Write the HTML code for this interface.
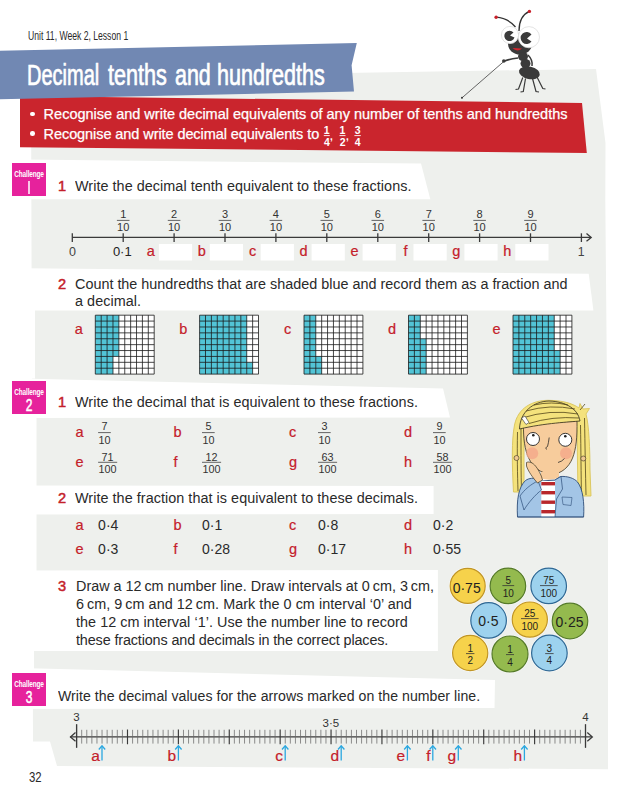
<!DOCTYPE html>
<html><head><meta charset="utf-8">
<style>
html,body{margin:0;padding:0;}
body{width:636px;height:810px;position:relative;overflow:hidden;background:#fff;font-family:"Liberation Sans",sans-serif;color:#2a2a2a;}
.a{position:absolute;white-space:pre;line-height:1;}
.q{font-size:15.2px;letter-spacing:0.05px;transform:scaleX(0.947);transform-origin:0 0;}
.rn{color:#c4202a;font-size:14.6px;-webkit-text-stroke:0.5px #c4202a;}
.badge{position:absolute;width:34px;height:33px;background:#e6229c;color:#fff;text-align:center;}
.badge .t{position:absolute;left:-3px;top:5.5px;width:40px;font-size:8.5px;font-weight:bold;letter-spacing:-0.2px;transform:scaleX(0.76);}
.badge .n{position:absolute;left:0;top:15.5px;width:34px;font-size:16px;transform:scaleX(0.75);-webkit-text-stroke:0.5px #fff;}
svg{position:absolute;left:0;top:0;}
.ttl{top:61px;font-size:29px;color:#fff;-webkit-text-stroke:0.7px #fff;transform-origin:0 0;}
</style></head>
<body>

<svg width="636" height="810" viewBox="0 0 636 810">
<polygon points="31,78 596,69 605.5,143 605.3,200 608,500 608,769.2 57,766 50,741.5 33,741.5" fill="#eef0ed"/>
<polygon points="0,159.3 421,163.6 430.3,199.2 0,199.2" fill="#fff"/>
<polygon points="0,268 588.7,273.7 593.4,310.5 0,310.5" fill="#fff"/>
<polygon points="0,378 443,388.5 450,417.5 0,418" fill="#fff"/>
<polygon points="0,485.5 433.6,486 433.6,514 0,514.5" fill="#fff"/>
<polygon points="0,570.5 437.9,570 437.9,651 0,651" fill="#fff"/>
<polygon points="0,667.5 495,680 494.5,708 0,709" fill="#fff"/>
<rect x="30" y="309" width="5" height="69.5" fill="#fff"/>
<rect x="30" y="417" width="6.5" height="69" fill="#fff"/>
<rect x="30" y="513" width="6.5" height="60" fill="#fff"/>
<rect x="30" y="650" width="4" height="20" fill="#fff"/>
<polygon points="20,96 582,102.9 586.8,153 20,147.2" fill="#ca252d"/>
<polygon points="0,50.8 356.8,43 351.6,65.2 354,91.6 0,99.2" fill="#7188b3"/>
<g stroke="#3a3a3a" stroke-width="1.3" fill="none">
<line x1="72.3" y1="237.4" x2="591" y2="237.4"/>
<polyline points="586.5,233.6 591.2,237.4 586.5,241.2"/>
<line x1="72.3" y1="233.3" x2="72.3" y2="242"/>
<line x1="123.2" y1="233.3" x2="123.2" y2="242"/>
<line x1="174.1" y1="233.3" x2="174.1" y2="242"/>
<line x1="225.0" y1="233.3" x2="225.0" y2="242"/>
<line x1="275.9" y1="233.3" x2="275.9" y2="242"/>
<line x1="326.8" y1="233.3" x2="326.8" y2="242"/>
<line x1="377.8" y1="233.3" x2="377.8" y2="242"/>
<line x1="428.7" y1="233.3" x2="428.7" y2="242"/>
<line x1="479.6" y1="233.3" x2="479.6" y2="242"/>
<line x1="530.5" y1="233.3" x2="530.5" y2="242"/>
<line x1="581.4" y1="233.3" x2="581.4" y2="242"/>
</g>
<rect x="158.9" y="244" width="33.2" height="16.5" fill="#fff"/>
<rect x="209.8" y="244" width="33.2" height="16.5" fill="#fff"/>
<rect x="260.7" y="244" width="33.2" height="16.5" fill="#fff"/>
<rect x="311.6" y="244" width="33.2" height="16.5" fill="#fff"/>
<rect x="362.6" y="244" width="33.2" height="16.5" fill="#fff"/>
<rect x="413.5" y="244" width="33.2" height="16.5" fill="#fff"/>
<rect x="464.4" y="244" width="33.2" height="16.5" fill="#fff"/>
<rect x="515.3" y="244" width="33.2" height="16.5" fill="#fff"/>
<g font-family="Liberation Sans" font-size="11" fill="#333" text-anchor="middle">
<text x="123.2" y="218.1">1</text>
<text x="123.2" y="230.6">10</text>
<line x1="116.9" y1="220.4" x2="129.5" y2="220.4" stroke="#555" stroke-width="0.9"/>
<text x="174.1" y="218.1">2</text>
<text x="174.1" y="230.6">10</text>
<line x1="167.8" y1="220.4" x2="180.4" y2="220.4" stroke="#555" stroke-width="0.9"/>
<text x="225.0" y="218.1">3</text>
<text x="225.0" y="230.6">10</text>
<line x1="218.7" y1="220.4" x2="231.3" y2="220.4" stroke="#555" stroke-width="0.9"/>
<text x="275.9" y="218.1">4</text>
<text x="275.9" y="230.6">10</text>
<line x1="269.6" y1="220.4" x2="282.2" y2="220.4" stroke="#555" stroke-width="0.9"/>
<text x="326.8" y="218.1">5</text>
<text x="326.8" y="230.6">10</text>
<line x1="320.5" y1="220.4" x2="333.1" y2="220.4" stroke="#555" stroke-width="0.9"/>
<text x="377.8" y="218.1">6</text>
<text x="377.8" y="230.6">10</text>
<line x1="371.5" y1="220.4" x2="384.1" y2="220.4" stroke="#555" stroke-width="0.9"/>
<text x="428.7" y="218.1">7</text>
<text x="428.7" y="230.6">10</text>
<line x1="422.4" y1="220.4" x2="435.0" y2="220.4" stroke="#555" stroke-width="0.9"/>
<text x="479.6" y="218.1">8</text>
<text x="479.6" y="230.6">10</text>
<line x1="473.3" y1="220.4" x2="485.9" y2="220.4" stroke="#555" stroke-width="0.9"/>
<text x="530.5" y="218.1">9</text>
<text x="530.5" y="230.6">10</text>
<line x1="524.2" y1="220.4" x2="536.8" y2="220.4" stroke="#555" stroke-width="0.9"/>
</g>
<text x="72.4" y="256.3" font-family="Liberation Sans" font-size="12.5" fill="#444" text-anchor="middle">0</text>
<text x="122.3" y="256.3" font-family="Liberation Sans" font-size="13" fill="#222" text-anchor="middle">0·1</text>
<text x="581.2" y="255.8" font-family="Liberation Sans" font-size="12.3" fill="#444" text-anchor="middle">1</text>
<g font-family="Liberation Sans" font-size="14.5" fill="#c4202a" stroke="#c4202a" stroke-width="0.2" text-anchor="middle">
<text x="150.9" y="256.3">a</text>
<text x="201.8" y="256.3">b</text>
<text x="252.7" y="256.3">c</text>
<text x="303.6" y="256.3">d</text>
<text x="354.6" y="256.3">e</text>
<text x="405.5" y="256.3">f</text>
<text x="456.4" y="256.3">g</text>
<text x="507.3" y="256.3">h</text>
</g>
<rect x="95.3" y="315.2" width="58.90" height="58.90" fill="#fff"/>
<rect x="95.3" y="315.2" width="17.67" height="58.90" fill="#52c4d6"/>
<rect x="112.97" y="315.2" width="5.89" height="41.23" fill="#52c4d6"/>
<path d="M95.30 315.2V374.10M95.3 315.20H154.20M101.19 315.2V374.10M95.3 321.09H154.20M107.08 315.2V374.10M95.3 326.98H154.20M112.97 315.2V374.10M95.3 332.87H154.20M118.86 315.2V374.10M95.3 338.76H154.20M124.75 315.2V374.10M95.3 344.65H154.20M130.64 315.2V374.10M95.3 350.54H154.20M136.53 315.2V374.10M95.3 356.43H154.20M142.42 315.2V374.10M95.3 362.32H154.20M148.31 315.2V374.10M95.3 368.21H154.20M154.20 315.2V374.10M95.3 374.10H154.20" stroke="#1a1a1a" stroke-width="0.8" fill="none"/>
<rect x="199.6" y="315.2" width="58.90" height="58.90" fill="#fff"/>
<rect x="199.6" y="315.2" width="47.12" height="58.90" fill="#52c4d6"/>
<rect x="246.72" y="362.32" width="5.89" height="11.78" fill="#52c4d6"/>
<path d="M199.60 315.2V374.10M199.6 315.20H258.50M205.49 315.2V374.10M199.6 321.09H258.50M211.38 315.2V374.10M199.6 326.98H258.50M217.27 315.2V374.10M199.6 332.87H258.50M223.16 315.2V374.10M199.6 338.76H258.50M229.05 315.2V374.10M199.6 344.65H258.50M234.94 315.2V374.10M199.6 350.54H258.50M240.83 315.2V374.10M199.6 356.43H258.50M246.72 315.2V374.10M199.6 362.32H258.50M252.61 315.2V374.10M199.6 368.21H258.50M258.50 315.2V374.10M199.6 374.10H258.50" stroke="#1a1a1a" stroke-width="0.8" fill="none"/>
<rect x="304.0" y="315.2" width="58.90" height="58.90" fill="#fff"/>
<rect x="304.0" y="315.2" width="11.78" height="58.90" fill="#52c4d6"/>
<rect x="315.78" y="356.43" width="5.89" height="17.67" fill="#52c4d6"/>
<path d="M304.00 315.2V374.10M304.0 315.20H362.90M309.89 315.2V374.10M304.0 321.09H362.90M315.78 315.2V374.10M304.0 326.98H362.90M321.67 315.2V374.10M304.0 332.87H362.90M327.56 315.2V374.10M304.0 338.76H362.90M333.45 315.2V374.10M304.0 344.65H362.90M339.34 315.2V374.10M304.0 350.54H362.90M345.23 315.2V374.10M304.0 356.43H362.90M351.12 315.2V374.10M304.0 362.32H362.90M357.01 315.2V374.10M304.0 368.21H362.90M362.90 315.2V374.10M304.0 374.10H362.90" stroke="#1a1a1a" stroke-width="0.8" fill="none"/>
<rect x="408.5" y="315.2" width="58.90" height="58.90" fill="#fff"/>
<rect x="408.5" y="315.2" width="11.78" height="58.90" fill="#52c4d6"/>
<rect x="420.28" y="338.76" width="5.89" height="35.34" fill="#52c4d6"/>
<path d="M408.50 315.2V374.10M408.5 315.20H467.40M414.39 315.2V374.10M408.5 321.09H467.40M420.28 315.2V374.10M408.5 326.98H467.40M426.17 315.2V374.10M408.5 332.87H467.40M432.06 315.2V374.10M408.5 338.76H467.40M437.95 315.2V374.10M408.5 344.65H467.40M443.84 315.2V374.10M408.5 350.54H467.40M449.73 315.2V374.10M408.5 356.43H467.40M455.62 315.2V374.10M408.5 362.32H467.40M461.51 315.2V374.10M408.5 368.21H467.40M467.40 315.2V374.10M408.5 374.10H467.40" stroke="#1a1a1a" stroke-width="0.8" fill="none"/>
<rect x="513.0" y="315.2" width="58.90" height="58.90" fill="#fff"/>
<rect x="513.0" y="315.2" width="41.23" height="58.90" fill="#52c4d6"/>
<rect x="554.23" y="350.54" width="5.89" height="23.56" fill="#52c4d6"/>
<path d="M513.00 315.2V374.10M513.0 315.20H571.90M518.89 315.2V374.10M513.0 321.09H571.90M524.78 315.2V374.10M513.0 326.98H571.90M530.67 315.2V374.10M513.0 332.87H571.90M536.56 315.2V374.10M513.0 338.76H571.90M542.45 315.2V374.10M513.0 344.65H571.90M548.34 315.2V374.10M513.0 350.54H571.90M554.23 315.2V374.10M513.0 356.43H571.90M560.12 315.2V374.10M513.0 362.32H571.90M566.01 315.2V374.10M513.0 368.21H571.90M571.90 315.2V374.10M513.0 374.10H571.90" stroke="#1a1a1a" stroke-width="0.8" fill="none"/>
<g font-family="Liberation Sans" font-size="14.5" fill="#c4202a" stroke="#c4202a" stroke-width="0.2" text-anchor="middle">
<text x="78.9" y="334">a</text>
<text x="183.2" y="334">b</text>
<text x="287.6" y="334">c</text>
<text x="392.1" y="334">d</text>
<text x="496.6" y="334">e</text>
</g>
<g font-family="Liberation Sans" font-size="14.5" fill="#c4202a" stroke="#c4202a" stroke-width="0.2">
<text x="75.5" y="437">a</text>
<text x="75.5" y="467">e</text>
<text x="75.5" y="529.7">a</text>
<text x="75.5" y="553.7">e</text>
<text x="173.5" y="437">b</text>
<text x="173.5" y="467">f</text>
<text x="173.5" y="529.7">b</text>
<text x="173.5" y="553.7">f</text>
<text x="289" y="437">c</text>
<text x="289" y="467">g</text>
<text x="289" y="529.7">c</text>
<text x="289" y="553.7">g</text>
<text x="404" y="437">d</text>
<text x="404" y="467">h</text>
<text x="404" y="529.7">d</text>
<text x="404" y="553.7">h</text>
</g>
<g font-family="Liberation Sans" font-size="10.8" fill="#333" text-anchor="middle">
<text x="104.5" y="430.4">7</text><text x="104.5" y="443.7">10</text>
<line x1="98.1" y1="432.6" x2="110.8" y2="432.6" stroke="#555" stroke-width="0.9"/>
<text x="107.6" y="460.5">71</text><text x="107.6" y="473.2">100</text>
<line x1="98.1" y1="462.3" x2="117.2" y2="462.3" stroke="#555" stroke-width="0.9"/>
<text x="208.4" y="430.4">5</text><text x="208.4" y="443.7">10</text>
<line x1="202.0" y1="432.6" x2="214.7" y2="432.6" stroke="#555" stroke-width="0.9"/>
<text x="211.5" y="460.5">12</text><text x="211.5" y="473.2">100</text>
<line x1="202.0" y1="462.3" x2="221.1" y2="462.3" stroke="#555" stroke-width="0.9"/>
<text x="324.4" y="430.4">3</text><text x="324.4" y="443.7">10</text>
<line x1="318.0" y1="432.6" x2="330.7" y2="432.6" stroke="#555" stroke-width="0.9"/>
<text x="327.5" y="460.5">63</text><text x="327.5" y="473.2">100</text>
<line x1="318.0" y1="462.3" x2="337.1" y2="462.3" stroke="#555" stroke-width="0.9"/>
<text x="439.4" y="430.4">9</text><text x="439.4" y="443.7">10</text>
<line x1="433.0" y1="432.6" x2="445.7" y2="432.6" stroke="#555" stroke-width="0.9"/>
<text x="442.5" y="460.5">58</text><text x="442.5" y="473.2">100</text>
<line x1="433.0" y1="462.3" x2="452.1" y2="462.3" stroke="#555" stroke-width="0.9"/>
</g>
<g font-family="Liberation Sans" font-size="14" fill="#2a2a2a">
<text x="98.1" y="529.7">0·4</text>
<text x="98.1" y="553.7">0·3</text>
<text x="202.0" y="529.7">0·1</text>
<text x="202.0" y="553.7">0·28</text>
<text x="318.0" y="529.7">0·8</text>
<text x="318.0" y="553.7">0·17</text>
<text x="433.0" y="529.7">0·2</text>
<text x="433.0" y="553.7">0·55</text>
</g>
<g stroke="#3a3a3a" fill="none">
<line x1="70" y1="736.9" x2="592" y2="736.9" stroke-width="1.3"/>
<polyline points="75.5,732.6 70.5,736.9 75.5,741.2" stroke-width="1.3"/>
<polyline points="587.3,732.6 592.3,736.9 587.3,741.2" stroke-width="1.3"/>
<path d="M76.60 724.3V747.8M81.69 729.8V743.6M86.78 729.8V743.6M91.87 729.8V743.6M96.96 729.8V743.6M102.04 729.8V743.6M107.13 729.8V743.6M112.22 729.8V743.6M117.31 729.8V743.6M122.40 729.8V743.6M132.58 729.8V743.6M137.67 729.8V743.6M142.76 729.8V743.6M147.85 729.8V743.6M152.94 729.8V743.6M158.02 729.8V743.6M163.11 729.8V743.6M168.20 729.8V743.6M173.29 729.8V743.6M183.47 729.8V743.6M188.56 729.8V743.6M193.65 729.8V743.6M198.74 729.8V743.6M203.82 729.8V743.6M208.91 729.8V743.6M214.00 729.8V743.6M219.09 729.8V743.6M224.18 729.8V743.6M234.36 729.8V743.6M239.45 729.8V743.6M244.54 729.8V743.6M249.63 729.8V743.6M254.71 729.8V743.6M259.80 729.8V743.6M264.89 729.8V743.6M269.98 729.8V743.6M275.07 729.8V743.6M285.25 729.8V743.6M290.34 729.8V743.6M295.43 729.8V743.6M300.52 729.8V743.6M305.60 729.8V743.6M310.69 729.8V743.6M315.78 729.8V743.6M320.87 729.8V743.6M325.96 729.8V743.6M336.14 729.8V743.6M341.23 729.8V743.6M346.32 729.8V743.6M351.41 729.8V743.6M356.50 729.8V743.6M361.58 729.8V743.6M366.67 729.8V743.6M371.76 729.8V743.6M376.85 729.8V743.6M387.03 729.8V743.6M392.12 729.8V743.6M397.21 729.8V743.6M402.30 729.8V743.6M407.38 729.8V743.6M412.47 729.8V743.6M417.56 729.8V743.6M422.65 729.8V743.6M427.74 729.8V743.6M437.92 729.8V743.6M443.01 729.8V743.6M448.10 729.8V743.6M453.19 729.8V743.6M458.27 729.8V743.6M463.36 729.8V743.6M468.45 729.8V743.6M473.54 729.8V743.6M478.63 729.8V743.6M488.81 729.8V743.6M493.90 729.8V743.6M498.99 729.8V743.6M504.08 729.8V743.6M509.16 729.8V743.6M514.25 729.8V743.6M519.34 729.8V743.6M524.43 729.8V743.6M529.52 729.8V743.6M539.70 729.8V743.6M544.79 729.8V743.6M549.88 729.8V743.6M554.97 729.8V743.6M560.05 729.8V743.6M565.14 729.8V743.6M570.23 729.8V743.6M575.32 729.8V743.6M580.41 729.8V743.6M585.50 724.3V747.8" stroke-width="0.75" stroke="#6a6a6a"/>
<path d="M127.49 729.4V744.2M178.38 729.4V744.2M229.27 729.4V744.2M280.16 729.4V744.2M331.05 729.4V744.2M381.94 729.4V744.2M432.83 729.4V744.2M483.72 729.4V744.2M534.61 729.4V744.2" stroke-width="1.15"/>
<path d="M76.60 724.3V747.8M585.50 724.3V747.8" stroke-width="1.3"/>
</g>
<text x="76.5" y="721.3" font-family="Liberation Sans" font-size="11.5" fill="#333" text-anchor="middle">3</text>
<text x="330.8" y="727" font-family="Liberation Sans" font-size="11.5" fill="#333" text-anchor="middle">3·5</text>
<text x="585.5" y="721.3" font-family="Liberation Sans" font-size="11.5" fill="#333" text-anchor="middle">4</text>
<g stroke="#2aa7e0" stroke-width="1.3" fill="none"><line x1="102.0" y1="746" x2="102.0" y2="760.5"/><polyline points="98.8,749.5 102.0,745.8 105.2,749.5"/></g>
<text x="99.8" y="760.5" font-family="Liberation Sans" font-size="15.5" fill="#c4202a" stroke="#c4202a" stroke-width="0.2" text-anchor="end">a</text>
<g stroke="#2aa7e0" stroke-width="1.3" fill="none"><line x1="178.4" y1="746" x2="178.4" y2="760.5"/><polyline points="175.2,749.5 178.4,745.8 181.6,749.5"/></g>
<text x="176.2" y="760.5" font-family="Liberation Sans" font-size="15.5" fill="#c4202a" stroke="#c4202a" stroke-width="0.2" text-anchor="end">b</text>
<g stroke="#2aa7e0" stroke-width="1.3" fill="none"><line x1="285.2" y1="746" x2="285.2" y2="760.5"/><polyline points="282.0,749.5 285.2,745.8 288.4,749.5"/></g>
<text x="283.0" y="760.5" font-family="Liberation Sans" font-size="15.5" fill="#c4202a" stroke="#c4202a" stroke-width="0.2" text-anchor="end">c</text>
<g stroke="#2aa7e0" stroke-width="1.3" fill="none"><line x1="341.2" y1="746" x2="341.2" y2="760.5"/><polyline points="338.0,749.5 341.2,745.8 344.4,749.5"/></g>
<text x="339.0" y="760.5" font-family="Liberation Sans" font-size="15.5" fill="#c4202a" stroke="#c4202a" stroke-width="0.2" text-anchor="end">d</text>
<g stroke="#2aa7e0" stroke-width="1.3" fill="none"><line x1="407.4" y1="746" x2="407.4" y2="760.5"/><polyline points="404.2,749.5 407.4,745.8 410.6,749.5"/></g>
<text x="405.2" y="760.5" font-family="Liberation Sans" font-size="15.5" fill="#c4202a" stroke="#c4202a" stroke-width="0.2" text-anchor="end">e</text>
<g stroke="#2aa7e0" stroke-width="1.3" fill="none"><line x1="432.8" y1="746" x2="432.8" y2="760.5"/><polyline points="429.6,749.5 432.8,745.8 436.0,749.5"/></g>
<text x="430.6" y="760.5" font-family="Liberation Sans" font-size="15.5" fill="#c4202a" stroke="#c4202a" stroke-width="0.2" text-anchor="end">f</text>
<g stroke="#2aa7e0" stroke-width="1.3" fill="none"><line x1="458.3" y1="746" x2="458.3" y2="760.5"/><polyline points="455.1,749.5 458.3,745.8 461.5,749.5"/></g>
<text x="456.1" y="760.5" font-family="Liberation Sans" font-size="15.5" fill="#c4202a" stroke="#c4202a" stroke-width="0.2" text-anchor="end">g</text>
<g stroke="#2aa7e0" stroke-width="1.3" fill="none"><line x1="524.4" y1="746" x2="524.4" y2="760.5"/><polyline points="521.2,749.5 524.4,745.8 527.6,749.5"/></g>
<text x="522.2" y="760.5" font-family="Liberation Sans" font-size="15.5" fill="#c4202a" stroke="#c4202a" stroke-width="0.2" text-anchor="end">h</text>
</svg>
<!-- header -->
<div class="a" style="left:28px;top:29.5px;font-size:12.3px;transform:scaleX(0.70);transform-origin:0 0;">Unit 11, Week 2, Lesson 1</div>
<div class="a ttl" style="left:26.8px;transform:scaleX(0.69);">Decimal</div>
<div class="a ttl" style="left:108.3px;transform:scaleX(0.745);">tenths</div>
<div class="a ttl" style="left:174.5px;transform:scaleX(0.74);">and</div>
<div class="a ttl" style="left:217.3px;transform:scaleX(0.743);">hundredths</div>

<!-- red banner text -->
<div class="a" style="left:30.3px;top:111.6px;width:4.6px;height:4.6px;border-radius:50%;background:#fff;"></div>
<div class="a" style="left:43.6px;top:107.2px;font-size:14.5px;color:#fff;-webkit-text-stroke:0.25px #fff;">Recognise and write decimal equivalents of any number of tenths and hundredths</div>
<div class="a" style="left:30.3px;top:131.2px;width:4.6px;height:4.6px;border-radius:50%;background:#fff;"></div>
<div class="a" style="left:43.6px;top:126.6px;font-size:14.5px;color:#fff;letter-spacing:-0.08px;-webkit-text-stroke:0.25px #fff;">Recognise and write decimal equivalents to</div>
<svg width="636" height="810" viewBox="0 0 636 810"><g font-family="Liberation Sans" font-size="10.5" font-weight="bold" fill="#fff" text-anchor="middle">
<text x="326.6" y="134.4">1</text><text x="326.8" y="145.6">4</text><text x="331.5" y="140" font-size="10">,</text>
<text x="342.5" y="134.4">1</text><text x="342.7" y="145.6">2</text><text x="347.4" y="140" font-size="10">,</text>
<text x="357.6" y="134.4">3</text><text x="357.6" y="145.6">4</text>
<g stroke="#fff" stroke-width="0.9"><line x1="323.8" y1="135.6" x2="329.8" y2="135.6"/><line x1="339.5" y1="135.6" x2="345.5" y2="135.6"/><line x1="354.4" y1="135.6" x2="360.8" y2="135.6"/></g>
</g></svg>

<!-- Challenge badges -->
<div class="badge" style="left:12px;top:163px;"><div class="t">Challenge</div><div class="n"><span style="display:inline-block;width:2px;height:12.5px;background:#fff;position:relative;top:1px;"></span></div></div>
<div class="badge" style="left:12px;top:381px;"><div class="t">Challenge</div><div class="n">2</div></div>
<div class="badge" style="left:11.5px;top:673px;"><div class="t">Challenge</div><div class="n">3</div></div>

<!-- Q texts -->
<div class="a rn" style="left:58px;top:178.5px;">1</div>
<div class="a q" style="left:75px;top:177.8px;">Write the decimal tenth equivalent to these fractions.</div>

<div class="a rn" style="left:58px;top:276.5px;">2</div>
<div class="a q" style="left:75px;top:275.8px;letter-spacing:0;">Count the hundredths that are shaded blue and record them as a fraction and</div>
<div class="a q" style="left:75px;top:293.3px;">a decimal.</div>

<div class="a rn" style="left:58px;top:394.5px;">1</div>
<div class="a q" style="left:75px;top:393.8px;">Write the decimal that is equivalent to these fractions.</div>

<div class="a rn" style="left:58px;top:490.5px;">2</div>
<div class="a q" style="left:75px;top:489.8px;">Write the fraction that is equivalent to these decimals.</div>

<div class="a rn" style="left:58px;top:578.5px;">3</div>
<div class="a q" style="left:75.5px;top:577.8px;letter-spacing:0;">Draw a 12 cm number line. Draw intervals at 0 cm, 3 cm,</div>
<div class="a q" style="left:75.5px;top:595.7px;">6 cm, 9 cm and 12 cm. Mark the 0 cm interval ‘0’ and</div>
<div class="a q" style="left:75.5px;top:613.6px;">the 12 cm interval ‘1’. Use the number line to record</div>
<div class="a q" style="left:75.5px;top:631.5px;letter-spacing:-0.14px;">these fractions and decimals in the correct places.</div>

<div class="a q" style="left:58px;top:688.6px;font-size:14.9px;">Write the decimal values for the arrows marked on the number line.</div>

<div class="a" style="left:28.5px;top:770px;font-size:14.2px;transform:scaleX(0.8);transform-origin:0 0;">32</div>

<svg width="636" height="810" viewBox="0 0 636 810">
<!-- ant -->
<g id="ant">
  <line x1="461.7" y1="98.1" x2="503.8" y2="61.5" stroke="#555" stroke-width="0.9"/>
  <circle cx="462" cy="97.8" r="1" fill="#333"/>
  <path d="M496.1,17.2 Q508,18 515.5,27" stroke="#333" stroke-width="1.3" fill="none"/>
  <path d="M529.4,11.4 Q519,16 519,31" stroke="#333" stroke-width="1.3" fill="none"/>
  <circle cx="496.1" cy="17.2" r="1.7" fill="#c8202a"/>
  <circle cx="529.4" cy="11.4" r="1.7" fill="#c8202a"/>
  <ellipse cx="520" cy="44" rx="12" ry="10.5" fill="#3a3a3a"/>
  <path d="M518,58 Q510,59 504.5,61" stroke="#3a3a3a" stroke-width="1.6" fill="none"/>
  <circle cx="503.8" cy="61" r="1.8" fill="#3a3a3a"/>
  <path d="M528,55 Q533,60 532,66" stroke="#3a3a3a" stroke-width="1.5" fill="none"/>
  <ellipse cx="523" cy="56.5" rx="5" ry="4.5" fill="#3a3a3a"/>
  <ellipse cx="525.5" cy="63.5" rx="5" ry="4.5" fill="#3a3a3a"/>
  <ellipse cx="529.4" cy="72.8" rx="10.6" ry="6.3" fill="#3a3a3a" transform="rotate(12 529.4 72.8)"/>
  <g stroke="#3a3a3a" stroke-width="1.2" fill="none">
    <path d="M522.8,77.5 L518.5,89 L515.5,89.5"/>
    <path d="M525.5,78.5 L523.3,91.5 L520.5,92"/>
    <path d="M532.5,78.5 L536,91.5 L539,92"/>
    <path d="M537,77 L542.8,88.5 L545.5,89"/>
  </g>
  <circle cx="510" cy="35" r="8.6" fill="#fff" stroke="#ddd" stroke-width="0.8"/>
  <circle cx="528.9" cy="37.2" r="10.6" fill="#fff" stroke="#ddd" stroke-width="0.8"/>
  <path d="M514.5,37.5 A5.2,5.2 0 1 1 513.5,32.5 L510,35.5 Z" fill="#3a3a3a"/>
  <path d="M531.5,41.5 A6,6 0 1 1 531.5,34.5 L527,38.5 Z" fill="#3a3a3a"/>
  <path d="M512.5,48 Q517,52.5 522,48.5 Z" fill="#d3262e"/>
</g>

<!-- girl -->
<g id="girl" stroke-linejoin="round">
  <path d="M513.5,492 C512,465 511.5,440 514.5,425 C518,408 532,400.5 548,400.3 C562,400.5 572,403 579,408 L580,403.5 L583,409 L589.5,408.5 L586,414 C589,425 590,450 590,470 L591,496 L578,496 L577,430 L524,430 L524,492 Z" fill="#f4e27c" stroke="#d9c45a" stroke-width="0.9"/>
  <g stroke="#4a3c14" stroke-width="0.75" fill="none">
    <path d="M517.5,432 C517,455 517.5,475 518,491"/><path d="M521,428 C521,455 521,475 521.5,490"/>
    <path d="M580.5,425 C581,450 581,475 581.5,495"/><path d="M584.5,418 C585,445 585.5,475 586,495"/>
    <path d="M580,410 L585,404"/>
  </g>
  <path d="M523.5,424 C523,452 529,471 551.5,475 C573,471 577.5,452 577,421 Z" fill="#f7cc9c" stroke="#3b3420" stroke-width="0.8"/>
  <path d="M519.5,429 C520,412 533,401.5 549,401 C566,401.5 578,409 580,421 C570,422 545,423 519.5,429 Z" fill="#f4e27c" stroke="#3b3420" stroke-width="0.85"/>
  <g stroke="#4a3c14" stroke-width="0.75" fill="none">
    <path d="M534,405 Q552,401 568,405"/>
    <path d="M526,411 Q550,404 575,409"/>
    <path d="M522,418 Q550,409 578,414"/>
    <path d="M529,423.5 Q552,416 579,418"/>
  </g>
  <path d="M521.5,418 L525,416 L529,422.5 L526,424.5 Z" fill="#fff" stroke="#333" stroke-width="0.6"/>
  <circle cx="532.2" cy="453.2" r="6" fill="#f4a88a" opacity="0.8"/>
  <circle cx="566" cy="453.2" r="6" fill="#f4a88a" opacity="0.8"/>
  <circle cx="533" cy="439" r="6.5" fill="#fff" stroke="#222" stroke-width="0.9"/>
  <circle cx="565.3" cy="439.8" r="6.5" fill="#fff" stroke="#222" stroke-width="0.9"/>
  <circle cx="533.3" cy="435.3" r="1.3" fill="#222"/>
  <circle cx="565.3" cy="436.3" r="1.3" fill="#222"/>
  <path d="M549.2,437.5 Q548.5,443 547.5,446.5 Q544.5,447.5 546.5,449.5" stroke="#222" stroke-width="0.75" fill="none"/>
  <path d="M558,462.5 Q562,461.5 564.5,458.5" stroke="#222" stroke-width="0.75" fill="none"/>
  <circle cx="516.5" cy="458" r="2.5" fill="#f0c890" stroke="#3b3420" stroke-width="0.6"/>
  <circle cx="583.3" cy="458.5" r="2.5" fill="#f0c890" stroke="#3b3420" stroke-width="0.6"/>
  <path d="M541,472 L559,472 L559,481 L541,481 Z" fill="#f7cc9c"/>
  <path d="M540,478 Q550,482 560,477 L560,481 L540,481 Z" fill="#fff"/>
  <path d="M517.5,517 C516.5,500 518.5,487 525.5,480.5 C529,478 534,477.5 538,479.5 L541.5,481 L555,480 L560.5,476.5 C567,476 574,478 577.5,482 C583,489 584.5,503 583.6,517 Z" fill="#a3c5e6" stroke="#2d4d78" stroke-width="0.9"/>
  <rect x="541.3" y="481" width="13.7" height="35.5" fill="#fff"/>
  <g fill="#b8272c">
    <rect x="541.3" y="482" width="13.7" height="3.4"/>
    <rect x="541.3" y="491" width="13.7" height="3.4"/>
    <rect x="541.3" y="500.5" width="13.7" height="3.4"/>
    <rect x="541.3" y="510" width="13.7" height="3.4"/>
  </g>
  <path d="M555,480 L561,476.5 L562.5,489 L556.5,499 L555,517" fill="#a3c5e6" stroke="#2d4d78" stroke-width="0.7"/>
  <path d="M562,497 L572,497.5 L571,505.5 L563,504.5 Z" fill="none" stroke="#2d4d78" stroke-width="0.6"/>
  <path d="M520,496 C524,490 531,484 538,481 L541.5,490 C536,494 528,503 524,510 Z" fill="#a3c5e6" stroke="#2d4d78" stroke-width="0.7"/>
  <path d="M526.5,462.5 C529.5,461 533,463 535.5,466 C538,469 541.5,475 542.5,480 L537.5,483 C533,478 528,471 526.5,466 Z" fill="#f7cc9c" stroke="#3b3420" stroke-width="0.7"/>
  <path d="M517.5,517 L583.6,517" stroke="#2d4d78" stroke-width="0.6"/>
</g>

<!-- circles -->
<g id="circles" font-family="Liberation Sans" fill="#231f20" text-anchor="middle">
  <circle cx="467.7" cy="585.9" r="18.7" fill="#fbfcfa"/><circle cx="507.9" cy="585.9" r="19.0" fill="#fbfcfa"/><circle cx="548.7" cy="585.9" r="19.0" fill="#fbfcfa"/><circle cx="488.6" cy="620.4" r="19.0" fill="#fbfcfa"/><circle cx="529.8" cy="619.6" r="18.8" fill="#fbfcfa"/><circle cx="570" cy="621" r="19.0" fill="#fbfcfa"/><circle cx="470.2" cy="653" r="18.8" fill="#fbfcfa"/><circle cx="510" cy="654" r="19.2" fill="#fbfcfa"/><circle cx="549.4" cy="653" r="19.0" fill="#fbfcfa"/>
  <circle cx="467.7" cy="585.9" r="17.5" fill="#f6d24b" stroke="#c09526" stroke-width="1.2"/>
  <circle cx="507.9" cy="585.9" r="17.8" fill="#94ba4e" stroke="#557a2a" stroke-width="1.2"/>
  <circle cx="548.7" cy="585.9" r="17.8" fill="#9dd2ee" stroke="#2f6894" stroke-width="1.2"/>
  <circle cx="488.6" cy="620.4" r="17.8" fill="#9dd2ee" stroke="#2f6894" stroke-width="1.2"/>
  <circle cx="529.8" cy="619.6" r="17.6" fill="#f6d24b" stroke="#c09526" stroke-width="1.2"/>
  <circle cx="570" cy="621" r="17.8" fill="#94ba4e" stroke="#557a2a" stroke-width="1.2"/>
  <circle cx="470.2" cy="653" r="17.6" fill="#f6d24b" stroke="#c09526" stroke-width="1.2"/>
  <circle cx="510" cy="654" r="18" fill="#94ba4e" stroke="#557a2a" stroke-width="1.2"/>
  <circle cx="549.4" cy="653" r="17.8" fill="#9dd2ee" stroke="#2f6894" stroke-width="1.2"/>
  <text x="466.7" y="592.7" font-size="14">0·75</text>
  <text x="488.4" y="626" font-size="14">0·5</text>
  <text x="569.5" y="626.7" font-size="14">0·25</text>
  <g font-size="10">
    <text x="508.3" y="584.2">5</text><text x="508.3" y="596.5">10</text>
    <text x="548.8" y="584.2">75</text><text x="548.8" y="596.5">100</text>
    <text x="529.8" y="616.8">25</text><text x="529.8" y="630.4">100</text>
    <text x="470.2" y="651.8">1</text><text x="470.2" y="664.4">2</text>
    <text x="510" y="652.8">1</text><text x="510" y="666">4</text>
    <text x="549.4" y="651.8">3</text><text x="549.4" y="664.4">4</text>
  </g>
  <g stroke="#333" stroke-width="0.8">
    <line x1="502.4" y1="585.6" x2="514.2" y2="585.6"/>
    <line x1="540" y1="585.6" x2="557.7" y2="585.6"/>
    <line x1="521" y1="618.6" x2="538.6" y2="618.6"/>
    <line x1="466" y1="653.6" x2="474.4" y2="653.6"/>
    <line x1="506" y1="654.6" x2="514" y2="654.6"/>
    <line x1="545.2" y1="653.6" x2="553.6" y2="653.6"/>
  </g>
</g>
</svg>

</body></html>
